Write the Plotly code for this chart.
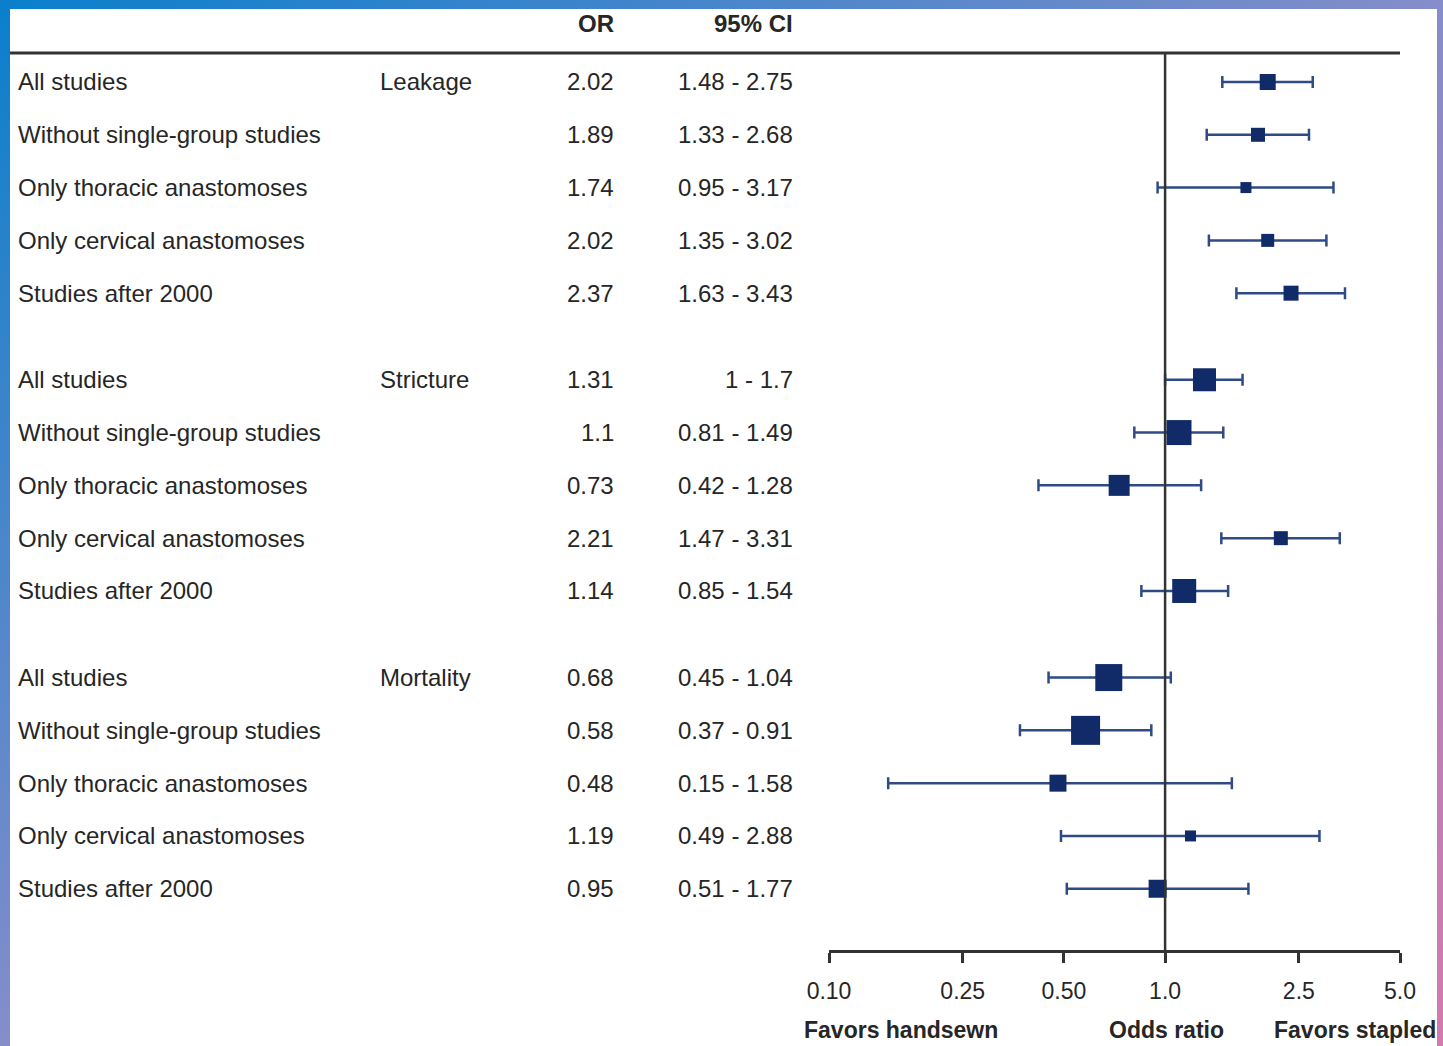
import base64
import math
import plotly.graph_objects as go

# ---------------- data ----------------
outcomes = ["Leakage", "Stricture", "Mortality"]
analyses = ["All studies", "Without single-group studies", "Only thoracic anastomoses",
            "Only cervical anastomoses", "Studies after 2000"]
or_vals = [2.02, 1.89, 1.74, 2.02, 2.37,
           1.31, 1.1, 0.73, 2.21, 1.14,
           0.68, 0.58, 0.48, 1.19, 0.95]
ci_lo = [1.48, 1.33, 0.95, 1.35, 1.63,
         1, 0.81, 0.42, 1.47, 0.85,
         0.45, 0.37, 0.15, 0.49, 0.51]
ci_hi = [2.75, 2.68, 3.17, 3.02, 3.43,
         1.7, 1.49, 1.28, 3.31, 1.54,
         1.04, 0.91, 1.58, 2.88, 1.77]
weights = [16, 14, 11, 13, 15,
           23, 25, 21, 14, 24,
           27, 29, 17, 11, 18]
tick_vals = [0.10, 0.25, 0.50, 1.0, 2.5, 5.0]
tick_text = ["0.10", "0.25", "0.50", "1.0", "2.5", "5.0"]

# ---------------- layout helpers ----------------
W, H = 1443, 1046
GROUP_STEP = 5.64
rows = []
for g in range(len(outcomes)):
    for i in range(len(analyses)):
        rows.append(g * GROUP_STEP + i)

def px(x):
    return x / W

def py(y):
    return 1 - y / H

FONT = "Liberation Sans, Arial, Helvetica, sans-serif"
TXT = "#262626"
NAVY = "#112b68"
BARC = "#2e4b86"
AX = "#333333"

y_top_val, y_bot_val = -0.549, 16.44

fig = go.Figure()

# forest plot markers with CIs
fig.add_trace(go.Scatter(
    x=or_vals, y=rows, mode="markers",
    marker=dict(symbol="square", size=weights, color=NAVY, opacity=1, line=dict(width=0)),
    error_x=dict(type="data", symmetric=False,
                 array=[h - o for h, o in zip(ci_hi, or_vals)],
                 arrayminus=[o - l for o, l in zip(or_vals, ci_lo)],
                 color=BARC, thickness=2.5, width=6),
    hoverinfo="skip", showlegend=False))

# reference line at OR = 1
fig.add_trace(go.Scatter(
    x=[1, 1], y=[y_top_val, y_bot_val], mode="lines",
    line=dict(color=AX, width=2.5), hoverinfo="skip", showlegend=False))

annotations = []
for k, y in enumerate(rows):
    g, i = divmod(k, len(analyses))
    annotations.append(dict(text=analyses[i], x=px(16), xref="paper", y=y, yref="y",
                            xanchor="left", yanchor="middle", showarrow=False,
                            font=dict(family=FONT, size=24, color=TXT)))
    if i == 0:
        annotations.append(dict(text=outcomes[g], x=px(378), xref="paper", y=y, yref="y",
                                xanchor="left", yanchor="middle", showarrow=False,
                                font=dict(family=FONT, size=24, color=TXT)))
    annotations.append(dict(text=f"{or_vals[k]:g}", x=px(616), xref="paper", y=y, yref="y",
                            xanchor="right", yanchor="middle", showarrow=False,
                            font=dict(family=FONT, size=24, color=TXT)))
    annotations.append(dict(text=f"{ci_lo[k]:g} - {ci_hi[k]:g}", x=px(795), xref="paper", y=y, yref="y",
                            xanchor="right", yanchor="middle", showarrow=False,
                            font=dict(family=FONT, size=24, color=TXT)))

# headers
for t, xr in [("<b>OR</b>", 616), ("<b>95% CI</b>", 795)]:
    annotations.append(dict(text=t, x=px(xr), xref="paper", y=py(23), yref="paper",
                            xanchor="right", yanchor="middle", showarrow=False,
                            font=dict(family=FONT, size=24, color=TXT)))
# bottom labels
annotations.append(dict(text="<b>Favors handsewn</b>", x=px(802), xref="paper", y=py(1030), yref="paper",
                        xanchor="left", yanchor="middle", showarrow=False,
                        font=dict(family=FONT, size=23, color=TXT)))
annotations.append(dict(text="<b>Odds ratio</b>", x=px(1166), xref="paper", y=py(1030), yref="paper",
                        xanchor="center", yanchor="middle", showarrow=False,
                        font=dict(family=FONT, size=23, color=TXT)))
annotations.append(dict(text="<b>Favors stapled</b>", x=px(1438), xref="paper", y=py(1030), yref="paper",
                        xanchor="right", yanchor="middle", showarrow=False,
                        font=dict(family=FONT, size=23, color=TXT)))

# background frame (gradient border + white card)
svg = (f'<svg xmlns="http://www.w3.org/2000/svg" width="{W}" height="{H}" viewBox="0 0 {W} {H}" '
       f'preserveAspectRatio="none"><defs><linearGradient id="g" x1="0" y1="0" x2="1" y2="1">'
       f'<stop offset="0" stop-color="#0a7fcc"/><stop offset="0.5" stop-color="#858dca"/>'
       f'<stop offset="1" stop-color="#d47aae"/></linearGradient></defs>'
       f'<rect width="{W}" height="{H}" fill="url(#g)"/>'
       f'<rect x="10" y="9" width="1427" height="{H - 9}" fill="#ffffff"/></svg>')
src = "data:image/svg+xml;base64," + base64.b64encode(svg.encode()).decode()

fig.update_layout(
    width=W, height=H, margin=dict(l=0, r=0, t=0, b=0, autoexpand=False),
    paper_bgcolor="white", plot_bgcolor="rgba(0,0,0,0)",
    images=[dict(source=src, xref="paper", yref="paper", x=0, y=1, sizex=1, sizey=1,
                 xanchor="left", yanchor="top", sizing="stretch", layer="below")],
    xaxis=dict(type="log", range=[math.log10(0.1), math.log10(5.0)],
               domain=[px(829), px(1400)], anchor="y",
               tickvals=tick_vals, ticktext=tick_text,
               ticks="outside", ticklen=10, tickwidth=2.5, tickcolor=AX,
               showline=True, linewidth=3, linecolor=AX,
               showgrid=False, zeroline=False, ticklabelstandoff=8,
               automargin=False,
               tickfont=dict(family=FONT, size=23, color=TXT)),
    yaxis=dict(range=[y_bot_val, y_top_val], domain=[py(950), py(53)],
               visible=False, showgrid=False, zeroline=False, automargin=False),
    shapes=[dict(type="line", xref="paper", yref="paper", x0=px(10), x1=px(1400),
                 y0=py(53), y1=py(53), line=dict(color=AX, width=3))],
    annotations=annotations,
)

fig.write_html("out.html", config={"displayModeBar": False},
               post_script="document.body.style.margin='0';document.body.style.overflow='hidden';")
